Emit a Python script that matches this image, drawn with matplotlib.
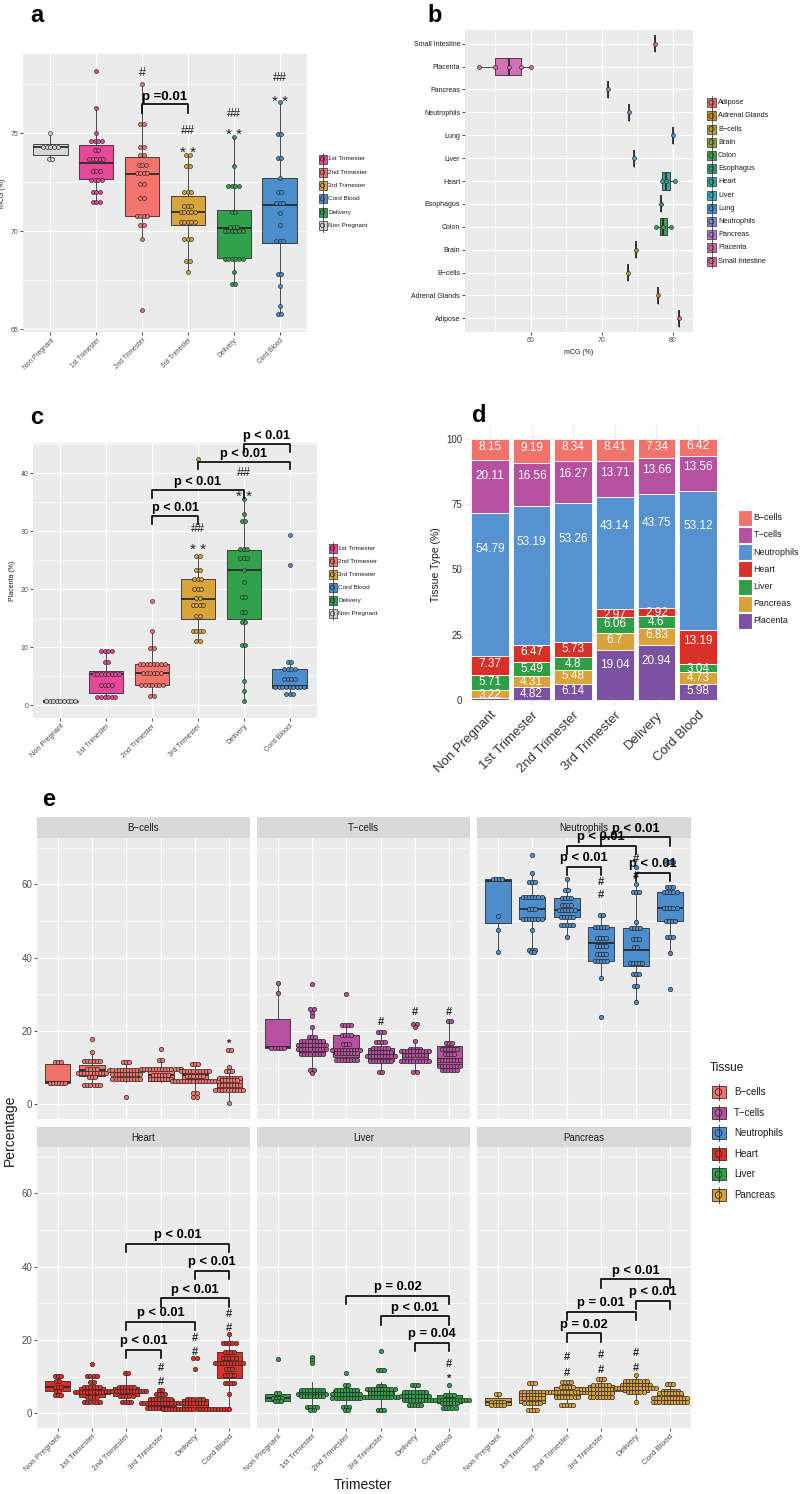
import numpy as np
import matplotlib
matplotlib.use("Agg")
import matplotlib.pyplot as plt
from matplotlib.patches import Rectangle, Circle
from matplotlib.ticker import FixedLocator

# ======================= DATA =======================
TRIMESTERS = ["Non Pregnant", "1st Trimester", "2nd Trimester",
              "3rd Trimester", "Delivery", "Cord Blood"]
LEGEND_ORDER = ["1st Trimester", "2nd Trimester", "3rd Trimester",
                "Cord Blood", "Delivery", "Non Pregnant"]

# ---- (a) mCG (%) per group: box stats + dot values (value, count)
A_Q1 = [73.9, 72.65, 70.8, 70.3, 68.65, 69.4]
A_MED = [74.3, 73.5, 72.9, 71.0, 70.15, 71.35]
A_Q3 = [74.45, 74.4, 73.8, 71.8, 71.1, 72.7]
A_LO = [73.7, 71.5, 69.6, 67.9, 67.3, 65.8]
A_HI = [75.0, 76.3, 77.5, 73.9, 74.8, 76.6]
A_DOTS = [
    [(75.0, 1), (74.3, 5), (73.7, 2)],
    [(78.2, 1), (76.3, 1), (75.0, 1), (74.6, 4), (74.15, 2), (73.7, 5),
     (73.1, 3), (72.6, 4), (72.0, 3), (71.5, 3)],
    [(77.5, 1), (75.5, 2), (74.3, 2), (73.9, 2), (73.4, 3), (73.0, 4),
     (72.4, 2), (71.7, 2), (70.8, 4), (70.3, 2), (69.6, 1), (66.0, 1)],
    [(73.9, 2), (73.35, 2), (72.0, 3), (71.3, 3), (71.0, 5), (70.5, 5),
     (69.6, 3), (68.5, 2), (67.9, 1)],
    [(74.8, 1), (73.35, 1), (72.3, 4), (71.0, 2), (70.2, 3), (70.0, 6),
     (68.6, 6), (67.9, 1), (67.3, 2)],
    [(76.6, 1), (74.95, 2), (73.75, 2), (72.7, 1), (72.0, 2), (71.45, 3),
     (70.95, 1), (70.3, 1), (69.5, 3), (67.8, 2), (67.2, 1), (66.2, 1), (65.8, 2)],
]
A_MARKS = [(2, "#", 78.1), (3, "##", 75.1), (3, "**", 74.3), (4, "##", 76.0),
           (4, "**", 75.2), (5, "##", 77.8), (5, "**", 76.9)]
A_BRACKETS = [(2, 3, "p =0.01", 76.5)]

# ---- (b) mCG (%) per tissue
B_TISSUES = ["Adipose", "Adrenal Glands", "B\u2212cells", "Brain", "Colon",
             "Esophagus", "Heart", "Liver", "Lung", "Neutrophils", "Pancreas",
             "Placenta", "Small Intestine"]
B_Q1 = [80.9, 77.9, 73.7, 74.9, 78.2, 78.3, 78.5, 74.6, 80.0, 73.8, 70.9, 55.0, 77.5]
B_MED = [80.9, 77.9, 73.7, 74.9, 78.7, 78.3, 79.1, 74.6, 80.0, 73.8, 70.9, 56.9, 77.5]
B_Q3 = [80.9, 77.9, 73.7, 74.9, 79.25, 78.3, 79.6, 74.6, 80.0, 73.8, 70.9, 58.6, 77.5]
B_LO = [80.9, 77.9, 73.7, 74.9, 77.7, 78.3, 78.5, 74.6, 80.0, 73.8, 70.9, 52.7, 77.5]
B_HI = [80.9, 77.9, 73.7, 74.9, 79.8, 78.3, 80.4, 74.6, 80.0, 73.8, 70.9, 60.0, 77.5]
B_DOTS = [[(80.9, 1)], [(77.9, 1)], [(73.7, 1)], [(74.9, 1)],
          [(77.7, 1), (78.6, 1), (79.8, 1)], [(78.3, 1)],
          [(78.5, 1), (79.1, 1), (80.4, 1)], [(74.6, 1)], [(80.0, 1)],
          [(73.8, 1)], [(70.9, 1)],
          [(52.7, 1), (55.0, 1), (56.9, 1), (58.6, 1), (60.0, 1)], [(77.5, 1)]]

# ---- (c) Placenta (%)
C_Q1 = [0.6, 2.2, 3.5, 14.8, 14.9, 2.9]
C_MED = [0.7, 5.4, 5.5, 18.3, 23.3, 3.4]
C_Q3 = [0.8, 5.9, 7.2, 21.7, 26.8, 6.3]
C_LO = [0.6, 1.5, 1.6, 11.0, 0.7, 1.9]
C_HI = [0.8, 9.3, 12.8, 25.8, 35.5, 7.5]
C_DOTS = [
    [(0.7, 9)],
    [(9.3, 4), (7.5, 2), (5.4, 8), (3.5, 4), (1.5, 6)],
    [(18.0, 1), (12.8, 1), (9.8, 2), (7.2, 8), (5.5, 6), (3.5, 7), (1.6, 2)],
    [(42.4, 1), (25.8, 2), (23.4, 2), (21.8, 3), (20.1, 3), (18.5, 2),
     (17.2, 4), (15.4, 2), (12.8, 4), (11.0, 2)],
    [(35.5, 1), (32.9, 1), (31.8, 2), (27.0, 3), (25.3, 3), (23.3, 1),
     (21.2, 1), (18.7, 2), (16.0, 2), (14.4, 2), (10.4, 2), (4.2, 1),
     (2.5, 1), (0.7, 1)],
    [(29.4, 1), (24.1, 1), (7.5, 2), (6.3, 4), (4.6, 4), (3.2, 9), (1.9, 3)],
]
C_MARKS = [(3, "##", 30.3), (3, "**", 27.6), (4, "##", 40.1), (4, "**", 36.8)]
C_BRACKETS = [(2, 3, "p < 0.01", 32.6), (2, 4, "p < 0.01", 37.1),
              (3, 5, "p < 0.01", 42.0), (4, 5, "p < 0.01", 45.0)]

# ---- (d) Tissue Type (%) stacked, bottom to top
D_PLACENTA = [0.65, 4.82, 6.14, 19.04, 20.94, 5.98]
D_PANCREAS = [3.22, 4.31, 5.48, 6.7, 6.83, 4.73]
D_LIVER = [5.71, 5.49, 4.8, 6.06, 4.6, 3.04]
D_HEART = [7.37, 6.47, 5.73, 2.97, 2.92, 13.19]
D_NEUTROPHILS = [54.79, 53.19, 53.26, 43.14, 43.75, 53.12]
D_TCELLS = [20.11, 16.56, 16.27, 13.71, 13.66, 13.56]
D_BCELLS = [8.15, 9.19, 8.34, 8.41, 7.34, 6.42]
D_STACK = [("Placenta", D_PLACENTA), ("Pancreas", D_PANCREAS),
           ("Liver", D_LIVER), ("Heart", D_HEART),
           ("Neutrophils", D_NEUTROPHILS), ("T\u2212cells", D_TCELLS),
           ("B\u2212cells", D_BCELLS)]
D_LEGEND = ["B\u2212cells", "T\u2212cells", "Neutrophils", "Heart", "Liver",
            "Pancreas", "Placenta"]

# ---- (e) Percentage per tissue facet
E_TISSUES = ["B\u2212cells", "T\u2212cells", "Neutrophils", "Heart", "Liver", "Pancreas"]
E_Q1 = {"B\u2212cells": [5.8, 7.8, 6.6, 6.3, 6.9, 4.0],
        "T\u2212cells": [15.4, 13.6, 13.0, 11.9, 11.8, 10.3],
        "Neutrophils": [49.5, 50.6, 51.2, 39.1, 37.7, 50.0],
        "Heart": [6.1, 4.4, 4.7, 1.8, 1.4, 9.7],
        "Liver": [3.4, 4.7, 4.1, 4.5, 3.7, 2.7],
        "Pancreas": [2.3, 2.7, 4.4, 5.5, 5.9, 3.2]}
E_MED = {"B\u2212cells": [6.2, 9.3, 8.2, 8.0, 8.1, 5.3],
         "T\u2212cells": [15.6, 15.7, 14.7, 13.6, 13.4, 12.5],
         "Neutrophils": [61.0, 53.2, 53.0, 44.1, 42.1, 53.6],
         "Heart": [7.3, 5.9, 6.2, 2.7, 2.7, 13.6],
         "Liver": [4.3, 5.4, 5.3, 5.9, 4.8, 3.6],
         "Pancreas": [3.2, 4.1, 5.9, 6.7, 7.7, 4.1]}
E_Q3 = {"B\u2212cells": [10.9, 10.8, 9.5, 9.6, 9.2, 7.3],
        "T\u2212cells": [23.4, 17.4, 18.9, 15.4, 14.5, 16.0],
        "Neutrophils": [61.4, 56.5, 56.2, 48.3, 48.0, 58.0],
        "Heart": [8.7, 7.1, 7.3, 3.8, 3.8, 16.8],
        "Liver": [5.2, 6.5, 6.5, 6.7, 5.9, 5.0],
        "Pancreas": [4.1, 5.9, 7.3, 7.7, 8.9, 5.5]}
E_LO = {"B\u2212cells": [5.8, 5.0, 6.0, 6.0, 3.1, 0.5],
        "T\u2212cells": [15.4, 8.5, 11.5, 8.8, 8.8, 9.3],
        "Neutrophils": [41.5, 41.5, 45.6, 34.4, 27.8, 41.2],
        "Heart": [5.0, 3.0, 3.0, 1.1, 1.1, 1.1],
        "Liver": [3.4, 1.8, 0.8, 0.9, 2.3, 1.5],
        "Pancreas": [2.3, 0.9, 2.3, 4.5, 3.2, 3.2]}
E_HI = {"B\u2212cells": [11.6, 14.3, 11.6, 12.1, 11.1, 10.2],
        "T\u2212cells": [33.0, 21.0, 21.6, 19.7, 17.3, 22.7],
        "Neutrophils": [61.4, 63.0, 61.5, 51.6, 60.0, 59.2],
        "Heart": [10.3, 10.3, 10.9, 6.4, 4.0, 21.6],
        "Liver": [5.5, 8.5, 8.0, 8.5, 7.8, 6.5],
        "Pancreas": [5.2, 8.3, 8.6, 9.4, 10.4, 8.0]}
E_DOTS = {
    "B\u2212cells": [
        [(11.6, 3), (5.8, 6)],
        [(17.8, 1), (14.3, 1), (11.7, 6), (9.6, 4), (8.6, 10), (7.4, 3), (5.4, 6)],
        [(11.6, 3), (9.5, 12), (8.2, 10), (7.0, 10), (2.1, 1)],
        [(15.1, 1), (12.1, 2), (9.6, 14), (8.1, 6), (6.8, 8)],
        [(11.1, 3), (9.2, 10), (7.6, 6), (6.3, 16), (3.1, 2), (2.0, 2)],
        [(14.8, 2), (10.2, 1), (9.2, 3), (7.3, 8), (6.6, 6), (5.2, 8), (4.0, 10), (0.5, 1)]],
    "T\u2212cells": [
        [(33.0, 1), (30.3, 1), (15.4, 5)],
        [(32.8, 1), (26.0, 2), (25.0, 1), (24.0, 1), (21.0, 1), (18.3, 3), (17.4, 8),
         (16.3, 10), (15.0, 10), (13.6, 8), (9.3, 2), (8.5, 1)],
        [(30.0, 1), (21.6, 4), (18.9, 4), (16.5, 3), (14.9, 10), (13.9, 8), (12.0, 8)],
        [(19.7, 3), (17.0, 4), (15.4, 6), (14.3, 8), (13.2, 10), (11.9, 8), (8.8, 2)],
        [(22.0, 2), (21.0, 1), (17.3, 1), (15.0, 4), (14.5, 10), (13.4, 8), (11.8, 10), (8.8, 2)],
        [(22.7, 2), (16.8, 3), (15.0, 6), (13.8, 4), (12.0, 8), (10.5, 8), (9.3, 6)]],
    "Neutrophils": [
        [(61.4, 4), (51.4, 1), (47.6, 1), (41.5, 1)],
        [(68.0, 1), (63.0, 1), (60.7, 3), (56.5, 7), (53.2, 3), (50.6, 7), (47.6, 1),
         (42.1, 3), (41.5, 2)],
        [(61.5, 1), (58.5, 2), (56.2, 4), (54.5, 4), (53.0, 6), (51.2, 5), (48.9, 5), (45.6, 1)],
        [(51.6, 2), (48.3, 5), (45.5, 4), (43.3, 4), (41.0, 4), (39.1, 5), (34.4, 1), (23.7, 1)],
        [(64.8, 1), (60.0, 1), (58.0, 3), (49.8, 1), (48.0, 4), (45.0, 3), (43.0, 2),
         (38.5, 5), (35.6, 3), (32.3, 2), (27.8, 1)],
        [(66.0, 3), (59.2, 3), (58.0, 5), (53.6, 5), (50.0, 4), (45.6, 3), (41.2, 1), (31.6, 1)]],
    "Heart": [
        [(10.3, 3), (8.7, 2), (7.3, 3), (6.1, 2), (5.0, 3)],
        [(13.4, 1), (10.3, 4), (8.5, 2), (7.1, 6), (5.9, 12), (4.4, 4), (3.0, 6)],
        [(10.9, 2), (7.3, 6), (6.2, 14), (4.7, 5), (3.2, 4)],
        [(6.4, 2), (5.2, 4), (3.8, 8), (2.7, 14), (1.4, 10)],
        [(15.0, 2), (12.0, 1), (3.8, 6), (2.7, 8), (1.2, 22)],
        [(21.6, 1), (19.1, 5), (16.8, 4), (15.0, 5), (13.6, 10), (12.2, 3), (10.5, 4),
         (8.3, 4), (5.2, 1), (1.1, 1)]],
    "Liver": [
        [(14.8, 1), (5.5, 2), (4.3, 4), (3.4, 3)],
        [(15.5, 1), (14.6, 1), (13.7, 1), (6.5, 8), (5.4, 10), (4.7, 8), (1.8, 4), (0.9, 2)],
        [(11.0, 1), (7.7, 2), (6.5, 8), (5.3, 10), (4.1, 10), (1.8, 3), (0.8, 2)],
        [(17.0, 1), (11.7, 3), (7.5, 3), (6.7, 10), (5.5, 8), (4.5, 12), (0.9, 3)],
        [(7.8, 3), (5.9, 8), (4.8, 10), (3.7, 8), (2.3, 5)],
        [(7.7, 1), (5.0, 4), (3.6, 14), (2.7, 6), (1.5, 5)]],
    "Pancreas": [
        [(5.2, 2), (3.2, 5), (2.3, 5)],
        [(8.3, 3), (5.9, 8), (4.9, 8), (4.1, 8), (2.7, 6), (0.9, 4)],
        [(8.6, 4), (7.3, 5), (5.9, 14), (4.4, 8), (2.3, 5)],
        [(9.4, 3), (7.7, 6), (6.7, 14), (5.5, 8), (4.5, 8)],
        [(10.4, 1), (8.9, 8), (7.7, 10), (6.8, 14), (5.9, 6), (3.2, 1)],
        [(8.0, 3), (6.2, 6), (5.5, 8), (4.1, 12), (3.2, 12)]],
}
E_MARKS = {
    "B\u2212cells": [(5, "*", 16.6)],
    "T\u2212cells": [(3, "#", 22.4), (4, "#", 25.3), (5, "#", 25.3)],
    "Neutrophils": [(3, "#", 57.1), (3, "#", 60.7), (4, "#", 62.3), (4, "#", 66.8)],
    "Heart": [(3, "#", 8.6), (3, "#", 12.5), (4, "#", 16.8), (4, "#", 20.5),
              (5, "#", 23.2), (5, "#", 27.0)],
    "Liver": [(5, "*", 9.5), (5, "#", 13.4)],
    "Pancreas": [(2, "#", 11.1), (2, "#", 15.4), (3, "#", 11.8), (3, "#", 15.9),
                 (4, "#", 12.3), (4, "#", 16.4)],
}
E_BRACKETS = {
    "Neutrophils": [(2, 3, "p < 0.01", 64.8), (2, 4, "p < 0.01", 70.5),
                    (3, 5, "p < 0.01", 72.8), (4, 5, "p < 0.01", 63.2)],
    "Heart": [(2, 5, "p < 0.01", 46.2), (4, 5, "p < 0.01", 38.9),
              (3, 5, "p < 0.01", 31.4), (2, 4, "p < 0.01", 25.0),
              (2, 3, "p < 0.01", 17.3)],
    "Liver": [(2, 5, "p = 0.02", 32.1), (3, 5, "p < 0.01", 26.5),
              (4, 5, "p = 0.04", 19.3)],
    "Pancreas": [(3, 5, "p < 0.01", 36.6), (2, 4, "p = 0.01", 27.7),
                 (4, 5, "p < 0.01", 30.7), (2, 3, "p = 0.02", 21.8)],
}

# ======================= STYLE =======================
TRI_COLORS = {"Non Pregnant": "#D6D6D6", "1st Trimester": "#E6489A",
              "2nd Trimester": "#F3756D", "3rd Trimester": "#D9A43B",
              "Delivery": "#33A04B", "Cord Blood": "#4A8ECC"}
B_COLORS = ["#E8706A", "#D08A2A", "#BBA032", "#8EA63C", "#3BA55A", "#2E9E72",
            "#30A99A", "#3AB2D0", "#3A9AD8", "#7E8CD8", "#B57AD2", "#D670B6", "#E5669E"]
TISSUE_COLORS = {"B\u2212cells": "#F2736B", "T\u2212cells": "#B5519E",
                 "Neutrophils": "#4E8DCB", "Heart": "#D93129",
                 "Liver": "#2F9E47", "Pancreas": "#D9A23B", "Placenta": "#7B52A3"}
D_COLORS = dict(TISSUE_COLORS, Neutrophils="#5592CF")

GREY = "#EBEBEB"
TXT = "#4D4D4D"
EDGE = "#2B2B2B"

W, H = 800, 1494
plt.rcParams["font.family"] = ["Liberation Sans", "DejaVu Sans"]
fig = plt.figure(figsize=(W / 100, H / 100), dpi=100)


def add_ax(l, t, r, b, **kw):
    return fig.add_axes([l / W, 1 - b / H, (r - l) / W, (b - t) / H], **kw)


def gg_style(ax, labelsize=5):
    ax.set_facecolor(GREY)
    for s in ax.spines.values():
        s.set_visible(False)
    ax.set_axisbelow(True)
    ax.grid(True, which="major", color="white", lw=0.9)
    ax.grid(True, which="minor", color="white", lw=0.45)
    ax.tick_params(which="minor", length=0)
    ax.tick_params(which="major", length=2.0, width=0.6, color="#333333",
                   labelcolor=TXT, labelsize=labelsize, pad=1.5)


def draw_boxes(ax, pos, q1, med, q3, lo, hi, colors, width=0.75,
               orient="vertical", lw=0.6, mlw=1.3):
    stats = [dict(q1=a, med=m, q3=b, whislo=l, whishi=h, fliers=[])
             for a, m, b, l, h in zip(q1, med, q3, lo, hi)]
    kw = dict(positions=pos, widths=width, patch_artist=True, showcaps=False,
              showfliers=False, manage_ticks=False,
              boxprops=dict(edgecolor=EDGE, linewidth=lw),
              medianprops=dict(color=EDGE, linewidth=mlw),
              whiskerprops=dict(color=EDGE, linewidth=lw))
    try:
        bp = ax.bxp(stats, orientation=orient, **kw)
    except TypeError:
        bp = ax.bxp(stats, vert=(orient == "vertical"), **kw)
    for p, c in zip(bp["boxes"], colors):
        p.set_facecolor(c)


def draw_dots(ax, pos, groups, colors, dx, s, horizontal=False):
    for p, grp, c in zip(pos, groups, colors):
        for val, n in grp:
            off = (np.arange(n) - (n - 1) / 2) * dx
            if horizontal:
                xs, ys = np.full(n, val), p + off
            else:
                xs, ys = p + off, np.full(n, val)
            ax.scatter(xs, ys, s=s, facecolor=c, edgecolor="#222222",
                       linewidths=0.45, zorder=4, clip_on=False)


def bracket(ax, x1, x2, y, leg, label, fs, dy):
    ax.plot([x1, x1, x2, x2], [y - leg, y, y, y - leg], color="black", lw=1.2,
            clip_on=False, zorder=6)
    ax.text((x1 + x2) / 2, y + dy, label, ha="center", va="bottom", fontsize=fs,
            fontweight="bold", clip_on=False, zorder=6, color="black")


def trimester_ax(ax, ylim, yt, yminor, xfs):
    gg_style(ax)
    ax.set_xlim(-0.6, 5.6)
    ax.set_ylim(*ylim)
    ax.set_xticks(range(6))
    ax.set_xticklabels(TRIMESTERS, rotation=45, ha="right", va="top",
                       rotation_mode="anchor", fontsize=xfs)
    ax.set_yticks(yt)
    ax.yaxis.set_minor_locator(FixedLocator(yminor))


xpos = np.arange(6)
tri_cols = [TRI_COLORS[t] for t in TRIMESTERS]

# ======================= (a) =======================
ax = add_ax(23, 54, 307, 332)
trimester_ax(ax, (64.86, 79.05), [65, 70, 75], [67.5, 72.5, 77.5], 4.8)
ax.set_ylabel("mCG (%)", fontsize=5, color="#1A1A1A", labelpad=3)
draw_boxes(ax, xpos, A_Q1, A_MED, A_Q3, A_LO, A_HI, tri_cols)
draw_dots(ax, xpos, A_DOTS, tri_cols, dx=0.078, s=8)
for i, lab, y in A_MARKS:
    if "*" in lab:
        ax.text(i, y - 0.3, "* *", ha="center", va="center", fontsize=11,
                color="#222222")
    else:
        ax.text(i, y, lab, ha="center", va="center", fontsize=9, color="#222222")
for i1, i2, lab, y in A_BRACKETS:
    bracket(ax, i1, i2, y, 0.45, lab, 9.5, 0.05)

# ======================= (b) =======================
ax = add_ax(465, 30, 693, 332)
gg_style(ax)
ypos = np.arange(1, len(B_TISSUES) + 1)
ax.set_xlim(50.75, 82.87)
ax.set_ylim(0.4, 13.6)
ax.set_xticks([60, 70, 80])
ax.xaxis.set_minor_locator(FixedLocator([55, 65, 75]))
ax.set_yticks(ypos)
ax.set_yticklabels(B_TISSUES, fontsize=5, color="#1A1A1A")
ax.set_xlabel("mCG (%)", fontsize=5, color="#1A1A1A", labelpad=4)
draw_boxes(ax, ypos, B_Q1, B_MED, B_Q3, B_LO, B_HI, B_COLORS, orient="horizontal")
draw_dots(ax, ypos, B_DOTS, B_COLORS, dx=0.1, s=8, horizontal=True)

# ======================= (c) =======================
ax = add_ax(33, 443, 317, 718)
trimester_ax(ax, (-2.19, 45.2), [0, 10, 20, 30, 40], [5, 15, 25, 35, 45], 5.2)
ax.set_ylabel("Placenta (%)", fontsize=5, color="#1A1A1A", labelpad=3)
draw_boxes(ax, xpos, C_Q1, C_MED, C_Q3, C_LO, C_HI, tri_cols)
draw_dots(ax, xpos, C_DOTS, tri_cols, dx=0.078, s=8)
for i, lab, y in C_MARKS:
    if "*" in lab:
        ax.text(i, y - 0.9, "* *", ha="center", va="center", fontsize=11,
                color="#222222")
    else:
        ax.text(i, y, lab, ha="center", va="center", fontsize=9, color="#222222")
for i1, i2, lab, y in C_BRACKETS:
    bracket(ax, i1, i2, y, 1.3, lab, 9.2, 0.3)

# ======================= (d) =======================
ax = add_ax(465, 425, 723, 705)
ax.set_facecolor("white")
for s in ax.spines.values():
    s.set_visible(False)
ax.set_axisbelow(True)
ax.grid(True, which="major", color="#EBEBEB", lw=0.9)
ax.grid(True, which="minor", color="#F2F2F2", lw=0.5)
ax.set_xlim(-0.6, 5.6)
ax.set_ylim(-1.92, 105.36)
ax.set_yticks([0, 25, 50, 75, 100])
ax.yaxis.set_minor_locator(FixedLocator([12.5, 37.5, 62.5, 87.5]))
ax.set_xticks(xpos)
ax.set_xticklabels(TRIMESTERS, rotation=45, ha="right", va="top",
                   rotation_mode="anchor", fontsize=9.5, color="#333333")
ax.tick_params(which="both", length=0, labelsize=7, labelcolor="#333333", pad=2)
ax.tick_params(axis="x", labelsize=9.5, pad=3)
ax.set_ylabel("Tissue Type (%)", fontsize=7.5, color="#1A1A1A", labelpad=4)
bottom = np.zeros(6)
for name, vals in D_STACK:
    vals = np.asarray(vals)
    ax.bar(xpos, vals, width=0.9, bottom=bottom, color=D_COLORS[name],
           edgecolor="white", linewidth=0.6, zorder=2)
    for xi, b0, v in zip(xpos, bottom, vals):
        if v >= 1:
            ax.text(xi, b0 + 0.77 * v - 1.35, f"{v:g}", ha="center", va="center",
                    fontsize=8.5, color="white", zorder=3)
    bottom = bottom + vals

# ======================= (e) =======================
E_COLS = [(37, 250), (257, 470), (477, 691)]
E_ROWS = [(817, 838, 1119), (1127, 1147, 1428)]
for k, tissue in enumerate(E_TISSUES):
    r, c = divmod(k, 3)
    l, rgt = E_COLS[c]
    st, t, b = E_ROWS[r]
    sax = add_ax(l, st, rgt, t)
    sax.set_facecolor("#D9D9D9")
    sax.set_xticks([])
    sax.set_yticks([])
    for s in sax.spines.values():
        s.set_visible(False)
    sax.text(0.5, 0.47, tissue, ha="center", va="center", fontsize=7,
             color="#1A1A1A", transform=sax.transAxes)

    ax = add_ax(l, t, rgt, b)
    ax.set_zorder(3)
    gg_style(ax, labelsize=7)
    ax.set_xlim(-0.6, 5.6)
    ax.set_ylim(-4.0, 72.66)
    ax.set_yticks([0, 20, 40, 60])
    ax.yaxis.set_minor_locator(FixedLocator([10, 30, 50, 70]))
    ax.set_xticks(xpos)
    if r == 1:
        ax.set_xticklabels(TRIMESTERS, rotation=45, ha="right", va="top",
                           rotation_mode="anchor", fontsize=5.8)
    else:
        ax.tick_params(axis="x", length=0, labelbottom=False)
    if c != 0:
        ax.tick_params(axis="y", length=0, labelleft=False)
    col = TISSUE_COLORS[tissue]
    draw_boxes(ax, xpos, E_Q1[tissue], E_MED[tissue], E_Q3[tissue],
               E_LO[tissue], E_HI[tissue], [col] * 6)
    draw_dots(ax, xpos, E_DOTS[tissue], [col] * 6, dx=0.09, s=10)
    for i, lab, y in E_MARKS.get(tissue, []):
        ax.text(i, y, lab, ha="center", va="center", fontsize=8,
                fontweight="bold", color="#222222", zorder=6)
    for i1, i2, lab, y in E_BRACKETS.get(tissue, []):
        bracket(ax, i1, i2, y, 2.3, lab, 9.3, 0.7)

# ======================= overlay: letters, titles, legends =======================
ov = fig.add_axes([0, 0, 1, 1])
ov.set_xlim(0, W)
ov.set_ylim(H, 0)
ov.axis("off")
ov.set_zorder(10)
ov.patch.set_alpha(0)

for lab, x, y in [("a", 37, 16), ("b", 435, 16), ("c", 37, 418),
                  ("d", 479, 416), ("e", 49, 799)]:
    ov.text(x, y, lab, ha="center", va="center", fontsize=17, fontweight="bold")

ov.text(10, 1130, "Percentage", rotation=90, ha="center", va="center",
        fontsize=10, color="#1A1A1A")
ov.text(363, 1485, "Trimester", ha="center", va="center", fontsize=10,
        color="#1A1A1A")


def key_glyph(cx, cy, w, h, color, lw=0.5):
    ov.plot([cx, cx], [cy - h / 2 - 2, cy + h / 2 + 2], color=EDGE, lw=lw)
    ov.add_patch(Rectangle((cx - w / 2, cy - h / 2), w, h, facecolor=color,
                           edgecolor=EDGE, lw=lw))
    ov.add_patch(Circle((cx, cy), min(w, h) * 0.28, facecolor=color,
                        edgecolor=EDGE, lw=lw))


for i, name in enumerate(LEGEND_ORDER):
    key_glyph(322.5, 159 + 13.3 * i, 8, 9, TRI_COLORS[name])
    ov.text(328.5, 159 + 13.3 * i, name, fontsize=4.6, va="center",
            color="#1A1A1A")
    key_glyph(332.5, 548.3 + 13.1 * i, 8, 9, TRI_COLORS[name])
    ov.text(338.5, 548.3 + 13.1 * i, name, fontsize=4.6, va="center",
            color="#1A1A1A")

for i, name in enumerate(B_TISSUES):
    key_glyph(711.5, 102.7 + 13.2 * i, 9, 9, B_COLORS[i])
    ov.text(718, 102.7 + 13.2 * i, name, fontsize=5.3, va="center",
            color="#1A1A1A")

for i, name in enumerate(D_LEGEND):
    cy = 517.7 + 17.2 * i
    ov.add_patch(Rectangle((738, cy - 8), 14, 16, facecolor=D_COLORS[name],
                           edgecolor="white", lw=0.8))
    ov.text(753.5, cy, name, fontsize=6.4, va="center", color="#1A1A1A")

ov.text(710, 1068, "Tissue", fontsize=8.5, va="center", color="#1A1A1A")
for i, name in enumerate(E_TISSUES):
    cy = 1092 + 20.6 * i
    key_glyph(718.5, cy, 14, 12, TISSUE_COLORS[name], lw=0.6)
    ov.text(734, cy, name, fontsize=7, va="center", color="#1A1A1A")

fig.savefig("out.png", dpi=100)
